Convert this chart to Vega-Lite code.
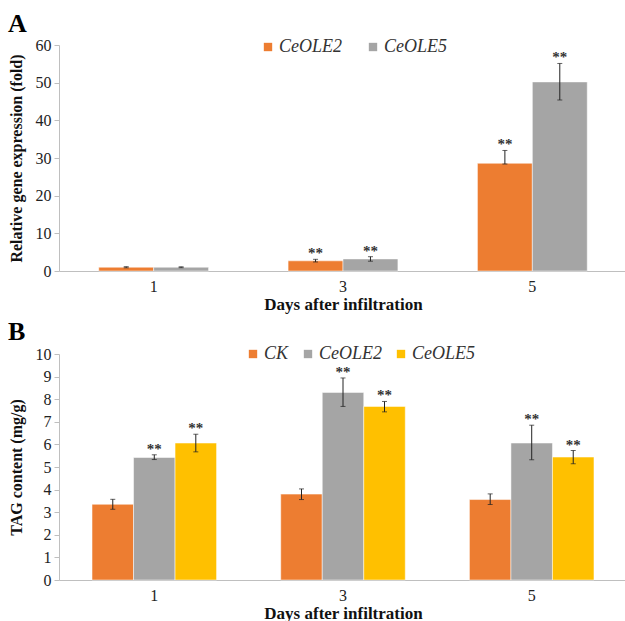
{
  "$schema": "https://vega.github.io/schema/vega-lite/v6.json",
  "padding": {"left": 8, "top": 11, "right": 0, "bottom": 0},
  "background": "white",
  "spacing": 7,
  "resolve": {"scale": {"color": "independent", "xOffset": "independent", "x": "independent", "y": "independent"}, "legend": {"color": "independent"}},
  "config": {
    "view": {"stroke": null},
    "font": "Liberation Serif",
    "axis": {"labelFont": "Liberation Serif", "titleFont": "Liberation Serif", "labelColor": "#222", "titleColor": "#111", "domainColor": "#BFBFBF", "tickColor": "#BFBFBF", "grid": false},
    "legend": {"labelFont": "Liberation Serif"},
    "text": {"font": "Liberation Serif"},
    "title": {"font": "Liberation Serif", "fontWeight": "bold", "fontSize": 26, "anchor": "start", "frame": "bounds", "color": "#000"}
  },
  "datasets": {
    "a": [
      {"day": "1", "gene": "CeOLE2", "value": 1.0, "lo": 0.85, "hi": 1.15, "sig": ""},
      {"day": "1", "gene": "CeOLE5", "value": 1.0, "lo": 0.88, "hi": 1.12, "sig": ""},
      {"day": "3", "gene": "CeOLE2", "value": 2.7, "lo": 2.4, "hi": 3.1, "sig": "**"},
      {"day": "3", "gene": "CeOLE5", "value": 3.2, "lo": 2.6, "hi": 3.8, "sig": "**"},
      {"day": "5", "gene": "CeOLE2", "value": 28.6, "lo": 28.4, "hi": 32.0, "sig": "**"},
      {"day": "5", "gene": "CeOLE5", "value": 50.2, "lo": 45.4, "hi": 55.1, "sig": "**"}
    ],
    "b": [
      {"day": "1", "line": "CK", "value": 3.35, "lo": 3.13, "hi": 3.57, "sig": ""},
      {"day": "1", "line": "CeOLE2", "value": 5.42, "lo": 5.33, "hi": 5.54, "sig": "**"},
      {"day": "1", "line": "CeOLE5", "value": 6.06, "lo": 5.67, "hi": 6.45, "sig": "**"},
      {"day": "3", "line": "CK", "value": 3.80, "lo": 3.56, "hi": 4.03, "sig": ""},
      {"day": "3", "line": "CeOLE2", "value": 8.30, "lo": 7.68, "hi": 8.94, "sig": "**"},
      {"day": "3", "line": "CeOLE5", "value": 7.68, "lo": 7.44, "hi": 7.90, "sig": "**"},
      {"day": "5", "line": "CK", "value": 3.56, "lo": 3.34, "hi": 3.81, "sig": ""},
      {"day": "5", "line": "CeOLE2", "value": 6.06, "lo": 5.32, "hi": 6.85, "sig": "**"},
      {"day": "5", "line": "CeOLE5", "value": 5.44, "lo": 5.14, "hi": 5.73, "sig": "**"}
    ]
  },
  "vconcat": [
    {
      "title": {"text": "A", "offset": 0},
      "width": 568,
      "height": 226,
      "data": {"name": "a"},
      "encoding": {
        "x": {"field": "day", "type": "ordinal", "scale": {"paddingInner": 0.42, "paddingOuter": 0.21},
          "axis": {"title": "Days after infiltration", "titleFontSize": 17, "titleFontWeight": "bold", "labelAngle": 0, "labelFontSize": 16, "ticks": false, "labelPadding": 7, "titlePadding": 2}},
        "xOffset": {"field": "gene", "type": "nominal", "sort": ["CeOLE2", "CeOLE5"]}
      },
      "layer": [
        {
          "mark": {"type": "bar", "stroke": "white", "strokeWidth": 0.5},
          "encoding": {
            "y": {"field": "value", "type": "quantitative", "scale": {"domain": [0, 60]},
              "axis": {"title": "Relative gene expression (fold)", "titleFontSize": 16, "titleFontWeight": "bold", "labelFontSize": 16, "values": [0, 10, 20, 30, 40, 50, 60], "tickSize": 5, "labelPadding": 3, "titlePadding": 11}},
            "color": {"field": "gene", "type": "nominal", "sort": ["CeOLE2", "CeOLE5"],
              "scale": {"domain": ["CeOLE2", "CeOLE5"], "range": ["#ED7D31", "#A5A5A5"]},
              "legend": {"title": null, "orient": "none", "direction": "horizontal", "legendX": 200, "legendY": -7, "symbolType": "square", "symbolSize": 70, "symbolStrokeWidth": 0, "labelFont": "Liberation Serif", "labelFontStyle": "italic", "labelFontSize": 18, "labelColor": "#333", "columnPadding": 22, "labelOffset": 2}}
          }
        },
        {
          "mark": {"type": "rule", "color": "#222", "strokeWidth": 1},
          "encoding": {"y": {"field": "lo", "type": "quantitative",
              "axis": {"title": "Relative gene expression (fold)", "titleFontSize": 16, "titleFontWeight": "bold", "labelFontSize": 16, "values": [0, 10, 20, 30, 40, 50, 60], "tickSize": 5, "labelPadding": 3, "titlePadding": 11}}, "y2": {"field": "hi"}}
        },
        {
          "mark": {"type": "tick", "color": "#222", "size": 5, "thickness": 1},
          "encoding": {"y": {"field": "lo", "type": "quantitative",
              "axis": {"title": "Relative gene expression (fold)", "titleFontSize": 16, "titleFontWeight": "bold", "labelFontSize": 16, "values": [0, 10, 20, 30, 40, 50, 60], "tickSize": 5, "labelPadding": 3, "titlePadding": 11}}}
        },
        {
          "mark": {"type": "tick", "color": "#222", "size": 5, "thickness": 1},
          "encoding": {"y": {"field": "hi", "type": "quantitative",
              "axis": {"title": "Relative gene expression (fold)", "titleFontSize": 16, "titleFontWeight": "bold", "labelFontSize": 16, "values": [0, 10, 20, 30, 40, 50, 60], "tickSize": 5, "labelPadding": 3, "titlePadding": 11}}}
        },
        {
          "mark": {"type": "text", "baseline": "bottom", "dy": 2, "fontSize": 15, "fontWeight": "bold", "color": "#333"},
          "encoding": {"y": {"field": "hi", "type": "quantitative",
              "axis": {"title": "Relative gene expression (fold)", "titleFontSize": 16, "titleFontWeight": "bold", "labelFontSize": 16, "values": [0, 10, 20, 30, 40, 50, 60], "tickSize": 5, "labelPadding": 3, "titlePadding": 11}}, "text": {"field": "sig"}}
        }
      ]
    },
    {
      "title": {"text": "B", "offset": 0},
      "width": 568,
      "height": 226,
      "data": {"name": "b"},
      "encoding": {
        "x": {"field": "day", "type": "ordinal", "scale": {"paddingInner": 0.34, "paddingOuter": 0.175},
          "axis": {"title": "Days after infiltration", "titleFontSize": 17, "titleFontWeight": "bold", "labelAngle": 0, "labelFontSize": 16, "ticks": false, "labelPadding": 7, "titlePadding": 2}},
        "xOffset": {"field": "line", "type": "nominal", "sort": ["CK", "CeOLE2", "CeOLE5"]}
      },
      "layer": [
        {
          "mark": {"type": "bar", "stroke": "white", "strokeWidth": 0.5},
          "encoding": {
            "y": {"field": "value", "type": "quantitative", "scale": {"domain": [0, 10]},
              "axis": {"title": "TAG content (mg/g)", "titleFontSize": 16, "titleFontWeight": "bold", "labelFontSize": 16, "values": [0, 1, 2, 3, 4, 5, 6, 7, 8, 9, 10], "tickSize": 5, "labelPadding": 3, "titlePadding": 11}},
            "color": {"field": "line", "type": "nominal", "sort": ["CK", "CeOLE2", "CeOLE5"],
              "scale": {"domain": ["CK", "CeOLE2", "CeOLE5"], "range": ["#ED7D31", "#A5A5A5", "#FFC000"]},
              "legend": {"title": null, "orient": "none", "direction": "horizontal", "legendX": 185, "legendY": -9, "symbolType": "square", "symbolSize": 70, "symbolStrokeWidth": 0, "labelFont": "Liberation Serif", "labelFontStyle": "italic", "labelFontSize": 18, "labelColor": "#333", "columnPadding": 10, "labelOffset": 2}}
          }
        },
        {
          "mark": {"type": "rule", "color": "#222", "strokeWidth": 1},
          "encoding": {"y": {"field": "lo", "type": "quantitative",
              "axis": {"title": "TAG content (mg/g)", "titleFontSize": 16, "titleFontWeight": "bold", "labelFontSize": 16, "values": [0, 1, 2, 3, 4, 5, 6, 7, 8, 9, 10], "tickSize": 5, "labelPadding": 3, "titlePadding": 11}}, "y2": {"field": "hi"}}
        },
        {
          "mark": {"type": "tick", "color": "#222", "size": 5, "thickness": 1},
          "encoding": {"y": {"field": "lo", "type": "quantitative",
              "axis": {"title": "TAG content (mg/g)", "titleFontSize": 16, "titleFontWeight": "bold", "labelFontSize": 16, "values": [0, 1, 2, 3, 4, 5, 6, 7, 8, 9, 10], "tickSize": 5, "labelPadding": 3, "titlePadding": 11}}}
        },
        {
          "mark": {"type": "tick", "color": "#222", "size": 5, "thickness": 1},
          "encoding": {"y": {"field": "hi", "type": "quantitative",
              "axis": {"title": "TAG content (mg/g)", "titleFontSize": 16, "titleFontWeight": "bold", "labelFontSize": 16, "values": [0, 1, 2, 3, 4, 5, 6, 7, 8, 9, 10], "tickSize": 5, "labelPadding": 3, "titlePadding": 11}}}
        },
        {
          "mark": {"type": "text", "baseline": "bottom", "dy": 2, "fontSize": 15, "fontWeight": "bold", "color": "#333"},
          "encoding": {"y": {"field": "hi", "type": "quantitative",
              "axis": {"title": "TAG content (mg/g)", "titleFontSize": 16, "titleFontWeight": "bold", "labelFontSize": 16, "values": [0, 1, 2, 3, 4, 5, 6, 7, 8, 9, 10], "tickSize": 5, "labelPadding": 3, "titlePadding": 11}}, "text": {"field": "sig"}}
        }
      ]
    }
  ]
}
